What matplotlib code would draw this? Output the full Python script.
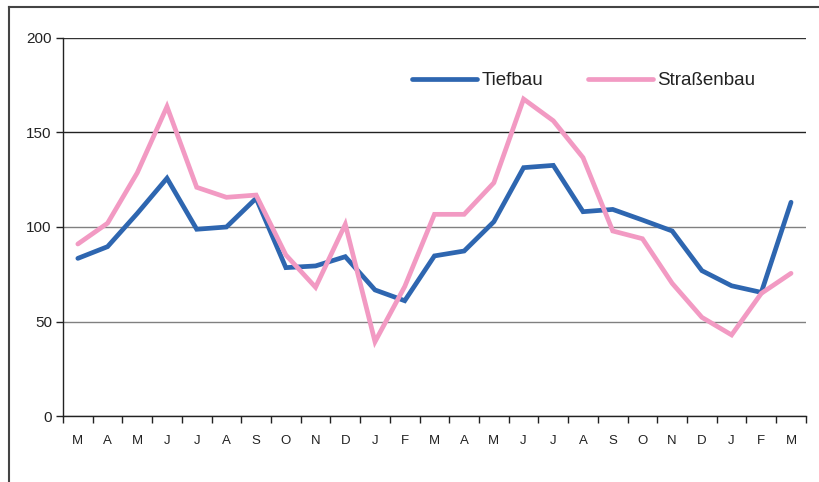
import matplotlib
matplotlib.use("Agg")
import matplotlib.pyplot as plt
from matplotlib.lines import Line2D
import numpy as np

plt.rcParams['font.family'] = ['Liberation Sans', 'DejaVu Sans']

months = ["M", "A", "M", "J", "J", "A", "S", "O", "N", "D", "J", "F",
          "M", "A", "M", "J", "J", "A", "S", "O", "N", "D", "J", "F", "M"]
tiefbau = [83.4, 89.6, 107.2, 125.8, 98.8, 100.0, 115.2, 78.5, 79.4, 84.3, 66.7, 61.0,
           84.7, 87.3, 102.8, 131.4, 132.6, 108.1, 109.3, 103.7, 97.9, 76.9, 68.9, 65.4, 113.1]
strassenbau = [91.0, 102.0, 128.7, 163.7, 121.0, 115.7, 116.9, 85.2, 68.1, 101.4, 39.3, 68.5,
               106.7, 106.7, 123.4, 167.7, 156.2, 136.7, 97.9, 93.8, 70.2, 52.2, 42.9, 64.9, 75.5]
yticks = [0, 50, 100, 150, 200]

fig = plt.figure(figsize=(8.19, 4.82), dpi=100)
ax = fig.add_axes([0.0769, 0.1369, 0.9071, 0.7843])

x = np.arange(len(months))
ax.plot(x, tiefbau, color="#2e66b0", lw=3.4, solid_capstyle="round", solid_joinstyle="miter", label="Tiefbau", zorder=3)
ax.plot(x, strassenbau, color="#f29ac3", lw=3.4, solid_capstyle="round", solid_joinstyle="miter", label="Straßenbau", zorder=3)

ax.set_xlim(-0.5, len(months) - 0.5)
ax.set_ylim(0, 200)
ax.set_yticks(yticks)
ax.set_yticklabels([str(v) for v in yticks], fontsize=11, color="#222")
ax.set_xticks(x)
ax.set_xticklabels(months, fontsize=9.5, color="#222")
ax.set_xticks(np.arange(len(months) + 1) - 0.5, minor=True)
ax.tick_params(axis="x", which="major", length=0, pad=14)
ax.tick_params(axis="x", which="minor", length=5, width=1, direction="out", color="#222")
ax.tick_params(axis="y", length=5, width=1, direction="out", color="#222", pad=3)

ax.grid(axis="y", which="major", lw=1.0)
gcols = {0: "#777", 50: "#808080", 100: "#808080", 150: "#222", 200: "#333"}
for v, gl in zip(yticks, ax.get_ygridlines()):
    gl.set_color(gcols[v])
ax.set_axisbelow(True)

for s in ["top", "right"]:
    ax.spines[s].set_visible(False)
for s in ["left", "bottom"]:
    ax.spines[s].set_color("#222")
    ax.spines[s].set_linewidth(1.0)

leg = ax.legend(loc="upper left", bbox_to_anchor=(0.4595, 0.929), ncol=2, frameon=False,
                fontsize=13.5, handlelength=3.5, handletextpad=0.2, columnspacing=2.4,
                borderaxespad=0)
for t in leg.get_texts():
    t.set_color("#222")

# outer frame (top and left edges)
fig.add_artist(Line2D([0.011, 1.0], [0.986, 0.986], transform=fig.transFigure, color="#444", lw=1.5))
fig.add_artist(Line2D([0.011, 0.011], [0.0, 0.986], transform=fig.transFigure, color="#444", lw=1.5))

fig.savefig("out.png", dpi=100)
